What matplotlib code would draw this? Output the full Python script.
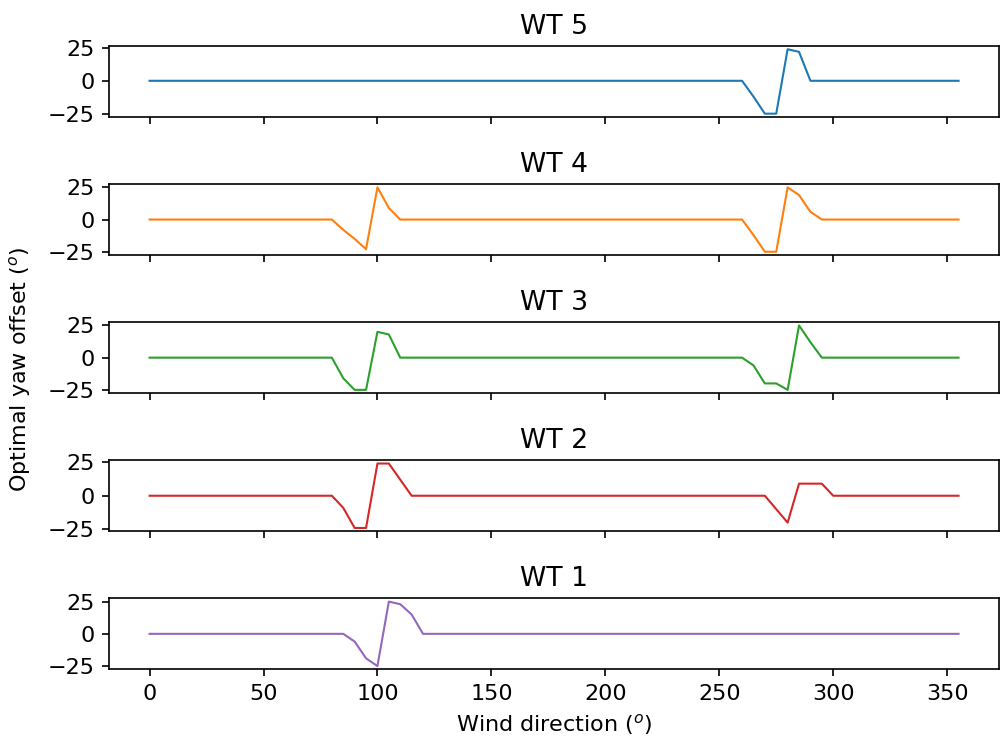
import numpy as np
import matplotlib
matplotlib.use("Agg")
import matplotlib.pyplot as plt

# wind directions 0..355 in 5 degree steps
wind_dirs = list(range(0, 360, 5))

# non-zero optimal yaw offsets per turbine (degree: offset), everything else is 0
wt5_offsets = {265: -12, 270: -25, 275: -25, 280: 24, 285: 22}
wt4_offsets = {85: -8, 90: -15, 95: -23, 100: 25, 105: 9,
               265: -12, 270: -25, 275: -25, 280: 25, 285: 19, 290: 6}
wt3_offsets = {85: -16, 90: -25, 95: -25, 100: 20, 105: 18,
               265: -6, 270: -20, 275: -20, 280: -25, 285: 25, 290: 12}
wt2_offsets = {85: -9, 90: -24, 95: -24, 100: 24, 105: 24, 110: 12,
               275: -10, 280: -20, 285: 9, 290: 9, 295: 9}
wt1_offsets = {90: -6, 95: -19, 100: -25, 105: 25, 110: 23, 115: 15}

titles = ["WT 5", "WT 4", "WT 3", "WT 2", "WT 1"]
all_offsets = [wt5_offsets, wt4_offsets, wt3_offsets, wt2_offsets, wt1_offsets]
colors = ["#1f77b4", "#ff7f0e", "#2ca02c", "#d62728", "#9467bd"]

plt.rcParams["font.size"] = 10.7


def yaw_series(offsets):
    return [offsets.get(d, 0) for d in wind_dirs]


fig, axes = plt.subplots(5, 1, figsize=(1001 / 150, 742 / 150), dpi=150, sharex=True)
fig.subplots_adjust(left=0.109, right=0.998, top=0.938, bottom=0.098, hspace=0.948)

for ax, title, offsets, color in zip(axes, titles, all_offsets, colors):
    ax.plot(wind_dirs, yaw_series(offsets), color=color, linewidth=1.0)
    ax.set_title(title, fontsize=12.8)
    ax.set_yticks([-25, 0, 25])

axes[-1].set_xlabel("Wind direction ($^o$)")
fig.text(0.02, 0.502, "Optimal yaw offset ($^o$)", rotation=90, va="center", ha="center")

plt.savefig("out.png", dpi=150)
plt.close()
